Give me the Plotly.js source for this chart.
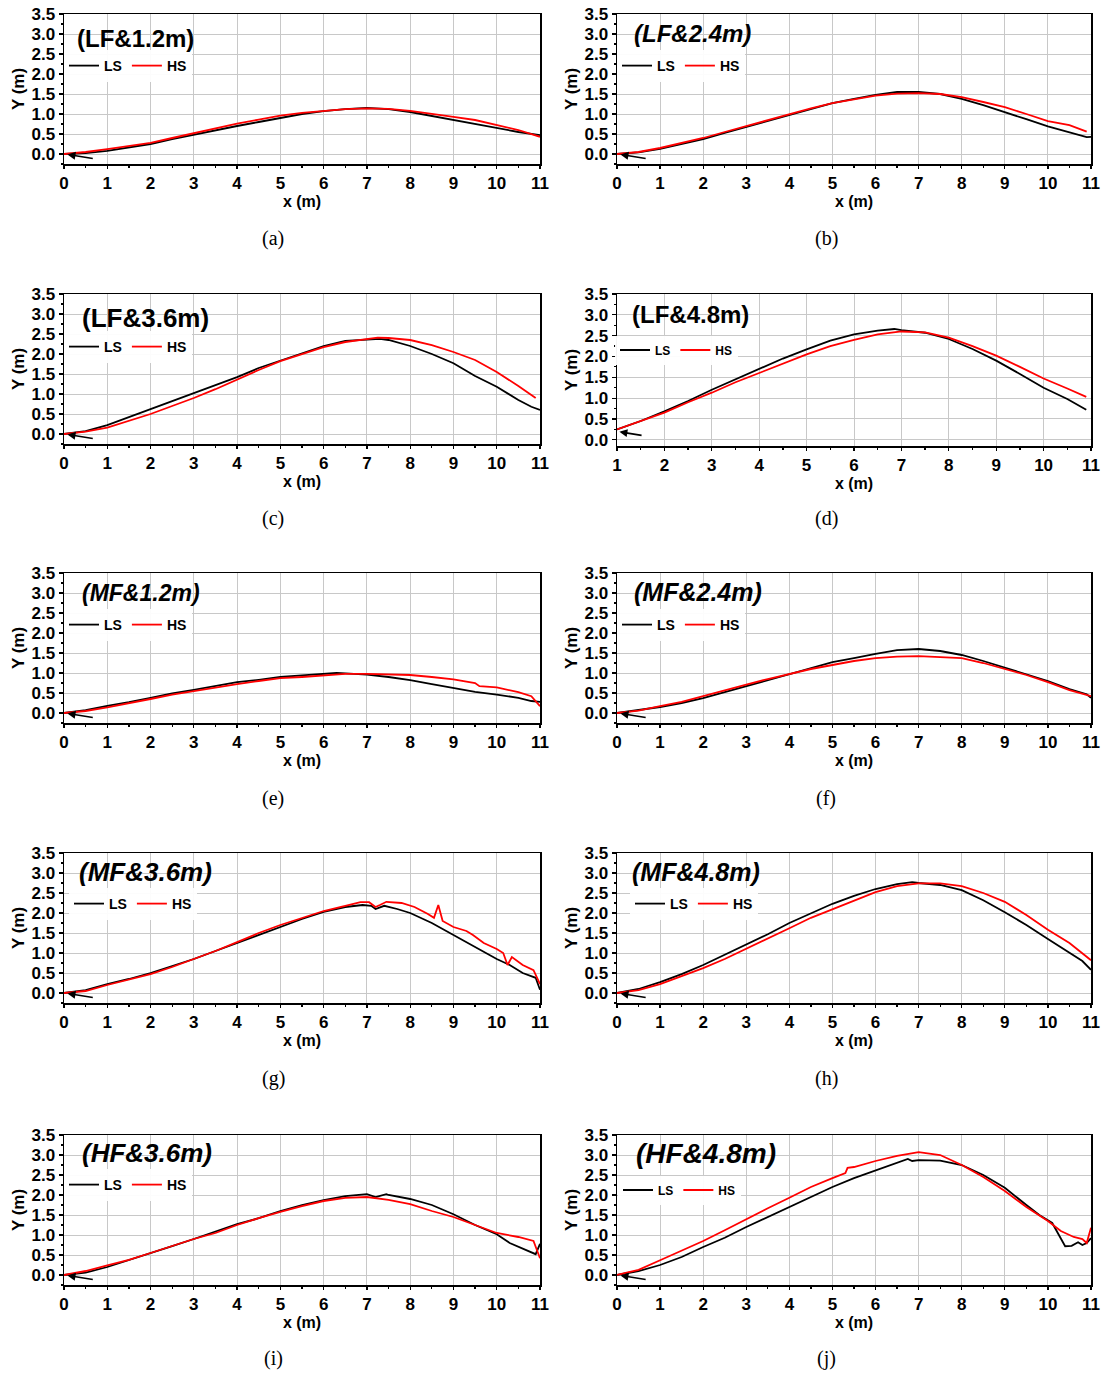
<!DOCTYPE html>
<html><head><meta charset="utf-8">
<script src="https://cdn.plot.ly/plotly-3.0.1.min.js"></script>
<style>html,body{margin:0;padding:0;background:#fff}</style>
</head><body><div id="chart" style="width:1107px;height:1373px"></div>
<script>
// ---------------- DATA ----------------
const panelTitles = ['(LF&1.2m)','(LF&2.4m)','(LF&3.6m)','(LF&4.8m)','(MF&1.2m)','(MF&2.4m)','(MF&3.6m)','(MF&4.8m)','(HF&3.6m)','(HF&4.8m)'];
const captions = ['(a)','(b)','(c)','(d)','(e)','(f)','(g)','(h)','(i)','(j)'];
const seriesNames = ['LS','HS'];
const xTickVals = [0,1,2,3,4,5,6,7,8,9,10,11];
const xTickValsD = [1,2,3,4,5,6,7,8,9,10,11];
const yTickVals = [0,0.5,1,1.5,2,2.5,3,3.5];

const stepX = [0,0.5,1,1.5,2,2.5,3,3.5,4,4.5,5,5.5,6,6.5,7,7.5,8,8.5,9,9.5,10,10.5,11];

// (a) LF&1.2m
const a_LS_x = stepX;
const a_LS_y = [0,0.02,0.08,0.17,0.25,0.37,0.48,0.6,0.7,0.8,0.9,1.0,1.07,1.12,1.15,1.12,1.05,0.95,0.84,0.75,0.65,0.55,0.47];
const a_HS_x = stepX;
const a_HS_y = [0,0.05,0.12,0.2,0.28,0.4,0.52,0.63,0.76,0.86,0.96,1.03,1.08,1.12,1.14,1.13,1.08,1.01,0.93,0.85,0.73,0.6,0.43];
// (b) LF&2.4m
const b_LS_x = [0,0.5,1,1.5,2,2.5,3,3.5,4,4.5,5,5.5,6,6.5,7,7.5,8,8.5,9,9.5,10,10.5,10.9,11];
const b_LS_y = [0,0.04,0.13,0.25,0.37,0.53,0.68,0.82,0.97,1.13,1.27,1.38,1.48,1.55,1.55,1.5,1.38,1.22,1.05,0.87,0.69,0.55,0.42,0.43];
const b_HS_x = [0,0.5,1,1.5,2,2.5,3,3.5,4,4.5,5,5.5,6,6.5,7,7.5,8,8.5,9,9.5,10,10.5,10.9];
const b_HS_y = [0,0.05,0.15,0.27,0.4,0.55,0.7,0.84,1.0,1.14,1.27,1.37,1.46,1.51,1.52,1.5,1.42,1.3,1.17,1.0,0.82,0.72,0.56];
// (c) LF&3.6m
const c_LS_x = [0,0.5,1,1.5,2,2.5,3,3.5,4,4.5,5,5.5,6,6.5,7,7.3,7.5,8,8.5,9,9.5,10,10.5,10.8,11];
const c_LS_y = [0,0.07,0.22,0.43,0.62,0.82,1.02,1.22,1.42,1.65,1.83,2.02,2.2,2.33,2.37,2.38,2.35,2.2,2.0,1.77,1.45,1.18,0.85,0.68,0.6];
const c_HS_x = [0,0.5,1,1.5,2,2.5,3,3.5,4,4.5,5,5.5,6,6.5,7,7.25,7.5,8,8.5,9,9.5,10,10.5,10.9];
const c_HS_y = [0,0.06,0.16,0.33,0.5,0.7,0.9,1.12,1.37,1.6,1.82,2.0,2.17,2.3,2.38,2.41,2.4,2.35,2.22,2.05,1.85,1.55,1.2,0.9];
// (d) LF&4.8m
const d_LS_x = [1,1.5,2,2.5,3,3.5,4,4.5,5,5.5,6,6.5,6.85,7,7.5,8,8.5,9,9.5,10,10.5,10.9];
const d_LS_y = [0.25,0.45,0.68,0.93,1.2,1.45,1.7,1.95,2.17,2.38,2.53,2.62,2.66,2.63,2.57,2.42,2.18,1.9,1.58,1.25,0.98,0.72];
const d_HS_x = [1,1.5,2,2.5,3,3.5,4,4.5,5,5.5,6,6.5,7,7.5,8,8.5,9,9.5,10,10.5,10.9];
const d_HS_y = [0.25,0.45,0.65,0.9,1.13,1.38,1.6,1.83,2.05,2.25,2.4,2.53,2.6,2.58,2.45,2.25,2.02,1.75,1.47,1.23,1.03];
// (e) MF&1.2m
const e_LS_x = [0,0.5,1,1.5,2,2.5,3,3.5,4,4.5,5,5.5,6,6.3,6.5,7,7.5,8,8.5,9,9.5,10,10.5,10.8,11];
const e_LS_y = [0,0.07,0.18,0.27,0.38,0.49,0.58,0.68,0.77,0.83,0.9,0.94,0.97,1.0,0.99,0.96,0.9,0.82,0.72,0.63,0.53,0.46,0.38,0.3,0.28];
const e_HS_x = [0,0.5,1,1.5,2,2.5,3,3.5,4,4.5,5,5.5,6,6.5,7,7.5,8,8.5,9,9.5,9.6,10,10.5,10.8,11];
const e_HS_y = [0,0.05,0.14,0.24,0.35,0.46,0.55,0.64,0.72,0.8,0.87,0.9,0.94,0.98,0.98,0.96,0.95,0.9,0.84,0.75,0.67,0.64,0.52,0.42,0.17];
// (f) MF&2.4m
const f_LS_x = [0,0.5,1,1.5,2,2.5,3,3.5,4,4.5,5,5.5,6,6.5,7,7.5,8,8.5,9,9.5,10,10.5,10.9,11];
const f_LS_y = [0,0.07,0.15,0.25,0.37,0.52,0.67,0.83,0.98,1.13,1.27,1.37,1.48,1.57,1.6,1.55,1.45,1.3,1.13,0.97,0.8,0.6,0.47,0.38];
const f_HS_x = stepX;
const f_HS_y = [0,0.06,0.17,0.28,0.42,0.57,0.71,0.85,0.98,1.1,1.2,1.3,1.37,1.41,1.42,1.4,1.37,1.25,1.1,0.95,0.77,0.57,0.42];
// (g) MF&3.6m
const g_LS_x = [0,0.5,1,1.5,2,2.5,3,3.5,4,4.5,5,5.5,6,6.5,6.9,7.1,7.2,7.4,7.7,8,8.5,9,9.5,10,10.3,10.6,10.9,11];
const g_LS_y = [0,0.07,0.22,0.35,0.5,0.67,0.85,1.05,1.25,1.45,1.65,1.85,2.03,2.15,2.2,2.18,2.1,2.18,2.1,2.0,1.75,1.45,1.15,0.85,0.7,0.5,0.38,0.08];
const g_HS_x = [0,0.5,1,1.5,2,2.5,3,3.5,4,4.5,5,5.5,6,6.5,6.85,7.05,7.2,7.3,7.45,7.8,8.1,8.4,8.55,8.65,8.75,9,9.3,9.45,9.7,10,10.15,10.25,10.35,10.6,10.85,11];
const g_HS_y = [0,0.05,0.2,0.33,0.47,0.65,0.85,1.05,1.27,1.5,1.7,1.88,2.05,2.18,2.27,2.27,2.15,2.2,2.28,2.25,2.15,1.98,1.88,2.2,1.8,1.65,1.55,1.45,1.25,1.1,1.0,0.7,0.9,0.7,0.57,0.22];
// (h) MF&4.8m
const h_LS_x = [0,0.5,1,1.5,2,2.5,3,3.5,4,4.5,5,5.5,6,6.5,6.85,7,7.5,8,8.5,9,9.5,10,10.5,10.8,11];
const h_LS_y = [0,0.1,0.27,0.47,0.7,0.95,1.2,1.47,1.75,2.0,2.23,2.43,2.6,2.72,2.77,2.75,2.7,2.57,2.32,2.02,1.7,1.35,1.02,0.8,0.58];
const h_HS_x = [0,0.5,1,1.5,2,2.5,3,3.5,4,4.5,5,5.5,6,6.5,7,7.5,8,8.5,9,9.5,10,10.5,10.8,11];
const h_HS_y = [0,0.07,0.22,0.42,0.62,0.85,1.1,1.35,1.62,1.88,2.1,2.3,2.52,2.67,2.74,2.74,2.67,2.5,2.28,1.95,1.58,1.25,1.0,0.82];
// (i) HF&3.6m
const i_LS_x = [0,0.5,1,1.5,2,2.5,3,3.5,4,4.5,5,5.5,6,6.5,7,7.2,7.45,7.5,8,8.5,9,9.5,10,10.3,10.6,10.9,11];
const i_LS_y = [0,0.06,0.2,0.37,0.55,0.72,0.9,1.08,1.27,1.42,1.6,1.75,1.87,1.97,2.02,1.95,2.02,2.0,1.9,1.75,1.52,1.25,1.02,0.8,0.65,0.52,0.78];
const i_HS_x = [0,0.5,1,1.5,2,2.5,3,3.5,4,4.5,5,5.5,6,6.5,7,7.5,8,8.5,9,9.5,10,10.5,10.85,11];
const i_HS_y = [0,0.1,0.24,0.38,0.55,0.72,0.9,1.05,1.25,1.42,1.58,1.72,1.85,1.93,1.95,1.88,1.77,1.6,1.45,1.25,1.05,0.95,0.85,0.42];
// (j) HF&4.8m
const j_LS_x = [0,0.5,1,1.5,2,2.5,3,3.5,4,4.5,5,5.5,6,6.5,6.75,6.85,7,7.5,8,8.5,9,9.5,9.8,10.1,10.25,10.4,10.55,10.7,10.8,10.9,11];
const j_LS_y = [0,0.1,0.25,0.45,0.7,0.93,1.2,1.45,1.7,1.95,2.2,2.42,2.62,2.8,2.9,2.85,2.87,2.86,2.75,2.5,2.18,1.75,1.5,1.3,1.0,0.72,0.73,0.82,0.75,0.8,0.92];
const j_HS_x = [0,0.5,1,1.5,2,2.5,3,3.5,4,4.5,5,5.3,5.35,5.5,6,6.5,7,7.5,8,8.5,9,9.5,10,10.3,10.6,10.8,10.9,11];
const j_HS_y = [0,0.13,0.37,0.6,0.85,1.12,1.4,1.67,1.93,2.2,2.42,2.55,2.68,2.7,2.85,2.98,3.07,3.0,2.75,2.45,2.1,1.7,1.35,1.1,0.95,0.9,0.8,1.18];

const seriesData = [
  [[a_LS_x,a_LS_y],[a_HS_x,a_HS_y]],
  [[b_LS_x,b_LS_y],[b_HS_x,b_HS_y]],
  [[c_LS_x,c_LS_y],[c_HS_x,c_HS_y]],
  [[d_LS_x,d_LS_y],[d_HS_x,d_HS_y]],
  [[e_LS_x,e_LS_y],[e_HS_x,e_HS_y]],
  [[f_LS_x,f_LS_y],[f_HS_x,f_HS_y]],
  [[g_LS_x,g_LS_y],[g_HS_x,g_HS_y]],
  [[h_LS_x,h_LS_y],[h_HS_x,h_HS_y]],
  [[i_LS_x,i_LS_y],[i_HS_x,i_HS_y]],
  [[j_LS_x,j_LS_y],[j_HS_x,j_HS_y]]
];

// ---------------- LAYOUT CONFIG ----------------
const W = 1107, H = 1373;
const colLeft = [[64,540],[617,1091]];
const rowTop = [14,294,573,853,1135];
const seriesColors = ['#000000','#ff0000'];
const italicTitle = [false,true,false,false,true,true,true,true,true,true];
const titleSize = [24,24,26,24,23,25,26,25,26,28];
const titlePos = [[75,38],[632,34],[80,318],[630,314],[80,593],[632,592],[77,872],[630,872],[80,1153],[634,1153]];
const legendPos = [[64,66],[617,66],[64,347],[615,350],[64,625],[617,625],[69,904],[630,904],[64,1185],[618,1190]];
const legendFont = [14,14,14,12,14,14,14,14,14,12];
const captionY = [238,518,798,1078,1358];

const FONT = 'Liberation Sans, Arial, sans-serif';
const traces = [];
const layout = {
  width: W, height: H,
  margin: {l:0,r:0,t:0,b:0},
  paper_bgcolor: '#fff', plot_bgcolor: '#fff',
  showlegend: true,
  annotations: [], shapes: []
};

for (let p = 0; p < 10; p++) {
  const col = p % 2, row = Math.floor(p / 2);
  const n = p + 1;
  const xa = 'xaxis' + (n === 1 ? '' : n), ya = 'yaxis' + (n === 1 ? '' : n);
  const xr = 'x' + (n === 1 ? '' : n), yr = 'y' + (n === 1 ? '' : n);
  const isD = (p === 3);
  const yMin = isD ? -0.15 : -0.25;
  const top = rowTop[row];
  const hPx = isD ? 152 : 150;
  const legName = 'legend' + (n === 1 ? '' : n);
  for (let s = 0; s < 2; s++) {
    traces.push({
      type: 'scatter', mode: 'lines',
      x: seriesData[p][s][0], y: seriesData[p][s][1],
      name: seriesNames[s],
      xaxis: xr, yaxis: yr,
      legend: legName,
      line: {color: seriesColors[s], width: 1.8}
    });
  }
  const tickFont = {family: FONT, size: 17, color: '#000', weight: 'bold'};
  layout[xa] = {
    domain: [colLeft[col][0]/W, colLeft[col][1]/W],
    anchor: yr,
    range: isD ? [1, 11] : [0, 11],
    tickvals: isD ? xTickValsD : xTickVals,
    ticks: 'outside', ticklen: 3, tickwidth: 1.2, tickcolor: '#000',
    minor: {dtick: 0.5, ticks: 'outside', ticklen: 2, tickcolor: '#000', showgrid: false},
    showgrid: true, gridcolor: '#c8c8c8', gridwidth: 1,
    showline: true, linecolor: '#000', linewidth: 1.5, mirror: true,
    zeroline: false,
    tickfont: tickFont,
    title: {text: 'x (m)', font: {family: FONT, size: 16, color: '#000', weight: 'bold'}, standoff: 0},
    fixedrange: true
  };
  layout[ya] = {
    domain: [1 - (top + hPx)/H, 1 - top/H],
    anchor: xr,
    range: [yMin, 3.5],
    tickvals: yTickVals,
    tickformat: '.1f',
    ticks: 'outside', ticklen: 4, tickwidth: 1.2, tickcolor: '#000',
    minor: {dtick: 0.25, ticks: 'outside', ticklen: 2, tickcolor: '#000', showgrid: false},
    showgrid: true, gridcolor: '#c8c8c8', gridwidth: 1,
    showline: true, linecolor: '#000', linewidth: 1.5, mirror: true,
    zeroline: false,
    tickfont: tickFont,
    title: {text: 'Y (m)', font: {family: FONT, size: 17, color: '#000', weight: 'bold'}, standoff: 2},
    fixedrange: true
  };
  layout[legName] = {
    x: legendPos[p][0]/W, y: 1 - legendPos[p][1]/H,
    xref: 'paper', yref: 'paper',
    xanchor: 'left', yanchor: 'middle',
    orientation: 'h',
    bgcolor: 'rgba(255,255,255,0.95)', borderwidth: 0,
    font: {family: FONT, size: legendFont[p], color: '#000', weight: 'bold'},
    itemwidth: 30, tracegroupgap: 0
  };
  // panel title
  layout.annotations.push({
    xref: 'paper', yref: 'paper',
    x: titlePos[p][0]/W, y: 1 - titlePos[p][1]/H,
    xanchor: 'left', yanchor: 'middle', showarrow: false,
    text: italicTitle[p] ? '<i>' + panelTitles[p] + '</i>' : panelTitles[p],
    font: {family: FONT, size: titleSize[p], color: '#000', weight: 'bold'}
  });
  // arrow pointing to origin
  layout.annotations.push({
    xref: xr, yref: yr, axref: xr, ayref: yr,
    x: isD ? 1.05 : 0.08, y: isD ? 0.19 : -0.01,
    ax: isD ? 1.55 : 0.7, ay: isD ? 0.1 : -0.12,
    showarrow: true, arrowhead: 2, arrowsize: 1, arrowwidth: 1.6, arrowcolor: '#000', text: ''
  });
  // caption
  layout.annotations.push({
    xref: 'paper', yref: 'paper',
    x: (col === 0 ? 273 : 826)/W, y: 1 - captionY[row]/H,
    xanchor: 'center', yanchor: 'middle', showarrow: false,
    text: captions[p],
    font: {family: 'Liberation Serif, Times New Roman, serif', size: 20, color: '#000'}
  });
}

Plotly.newPlot('chart', traces, layout, {displayModeBar: false, staticPlot: true});
</script>
</body></html>
